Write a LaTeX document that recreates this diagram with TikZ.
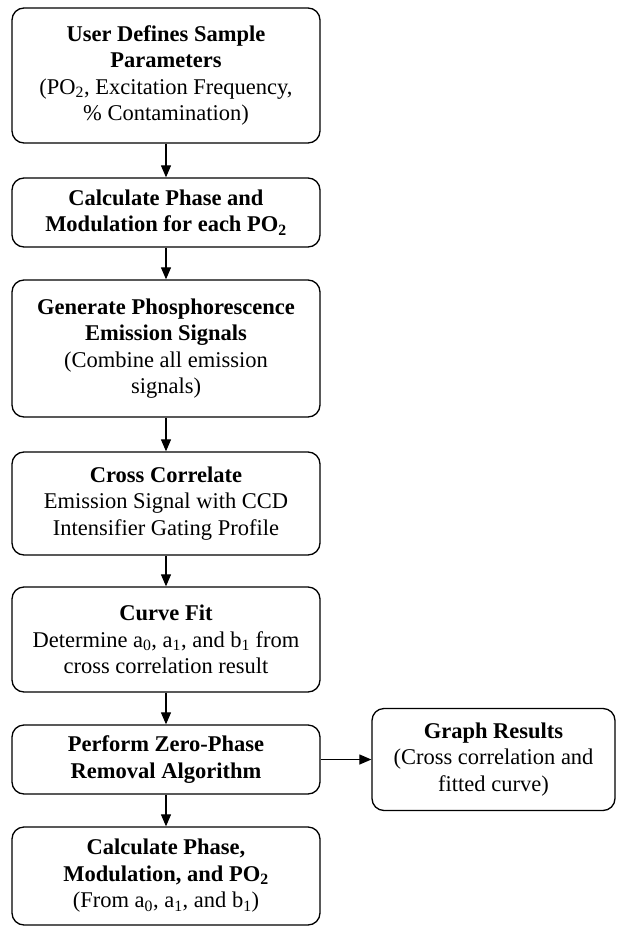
\documentclass[tikz,border=0pt]{standalone}
\usepackage{fontspec}
\setmainfont{Liberation Serif}
\usetikzlibrary{arrows.meta}
\begin{document}
\begin{tikzpicture}[x=1pt,y=-1pt,
 box/.style={draw, line width=1.3pt, rounded corners=12pt, align=center, inner sep=0pt,
   minimum width=308pt, font=\fontsize{22.5}{26.5}\selectfont},
 arr/.style={-{Triangle[length=12pt,width=10pt]}, line width=1.2pt}]
\useasboundingbox (0,0) rectangle (616,928);
\node[box, minimum height=135pt] (b1) at (166,75.5)
 {\textbf{User Defines Sample}\\\textbf{Parameters}\\(PO\textsubscript{2}, Excitation Frequency,\\\% Contamination)};
\node[box, minimum height=69pt] (b2) at (166,212.5)
 {\textbf{Calculate Phase and}\\\textbf{Modulation for each PO\textsubscript{2}}};
\node[box, minimum height=137pt] (b3) at (166,348.5)
 {\textbf{Generate Phosphorescence}\\\textbf{Emission Signals}\\(Combine all emission\\signals)};
\node[box, minimum height=103pt] (b4) at (166,503.5)
 {\textbf{Cross Correlate}\\Emission Signal with CCD\\Intensifier Gating Profile};
\node[box, minimum height=105pt] (b5) at (166,639.5)
 {\textbf{Curve Fit}\\Determine a\textsubscript{0}, a\textsubscript{1}, and b\textsubscript{1} from\\cross correlation result};
\node[box, minimum height=69pt] (b6) at (166,759.5)
 {\textbf{Perform Zero-Phase}\\\textbf{Removal Algorithm}};
\node[box, minimum height=98pt] (b7) at (166,876)
 {\textbf{Calculate Phase,}\\\textbf{Modulation, and PO\textsubscript{2}}\\(From a\textsubscript{0}, a\textsubscript{1}, and b\textsubscript{1})};
\node[box, minimum width=243pt, minimum height=102pt] (g) at (493.5,759.5)
 {\textbf{Graph Results}\\(Cross correlation and\\fitted curve)};
\draw[arr] (b1) -- (b2);
\draw[arr] (b2) -- (b3);
\draw[arr] (b3) -- (b4);
\draw[arr] (b4) -- (b5);
\draw[arr] (b5) -- (b6);
\draw[arr] (b6) -- (b7);
\draw[arr] (b6) -- (g);
\end{tikzpicture}
\end{document}
